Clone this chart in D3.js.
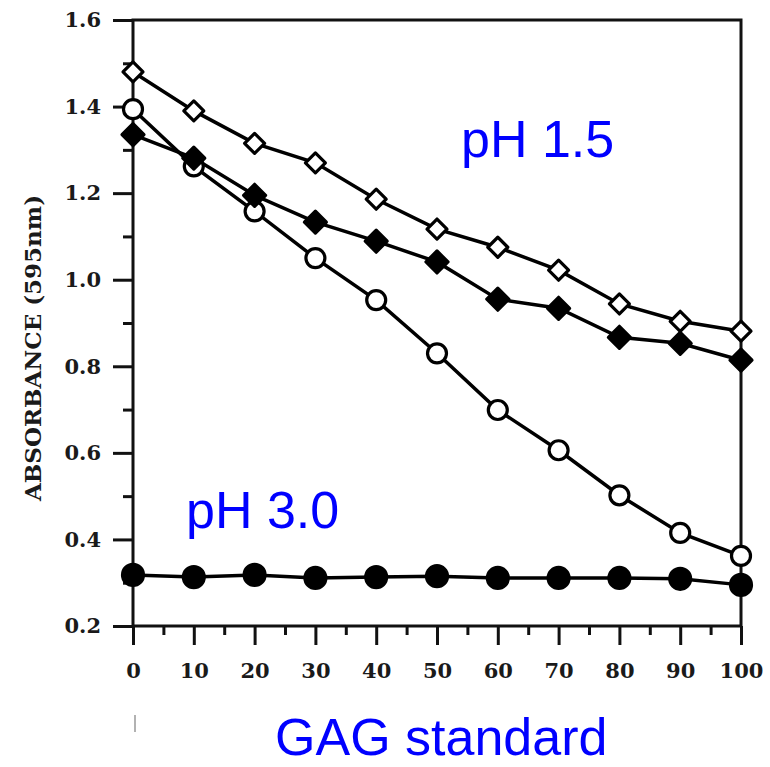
<!DOCTYPE html>
<html>
<head>
<meta charset="utf-8">
<script src="https://cdn.jsdelivr.net/npm/d3@7"></script>
<style>
  body { margin: 0; background: #fff; }
  svg { display: block; }
</style>
</head>
<body>
<svg id="chart" width="770" height="767"></svg>
<script>
// GAG standard concentrations (x) and absorbance readings at 595nm
var gag = [0, 10, 20, 30, 40, 50, 60, 70, 80, 90, 100];
var openDiamond  = [1.48, 1.39, 1.315, 1.27, 1.186, 1.117, 1.075, 1.022, 0.944, 0.904, 0.881];
var filledDiamond = [1.335, 1.281, 1.195, 1.133, 1.089, 1.041, 0.955, 0.934, 0.867, 0.853, 0.814];
var openCircle   = [1.394, 1.262, 1.158, 1.05, 0.953, 0.83, 0.699, 0.606, 0.502, 0.415, 0.362];
var filledCircle = [0.318, 0.313, 0.318, 0.311, 0.313, 0.315, 0.311, 0.311, 0.311, 0.309, 0.295];
var yTicks = [0.2, 0.4, 0.6, 0.8, 1.0, 1.2, 1.4, 1.6];
var xTicks = [0, 10, 20, 30, 40, 50, 60, 70, 80, 90, 100];

var svg = d3.select("#chart");
var x = d3.scaleLinear().domain([0, 100]).range([133, 741]);
var y = d3.scaleLinear().domain([0.2, 1.6]).range([626, 20]);

var tickFont = "'DejaVu Serif', serif";
var ink = "#111";

// minor ticks first (no labels)
svg.append("g")
   .attr("transform", "translate(" + x(0) + ",0)")
   .call(d3.axisLeft(y).tickValues(d3.range(0.3, 1.6, 0.2)).tickSize(10).tickFormat(""))
   .call(function(g) { g.select(".domain").remove(); })
   .selectAll("line").attr("stroke", ink).attr("stroke-width", 3);

svg.append("g")
   .attr("transform", "translate(0," + y(0.2) + ")")
   .call(d3.axisBottom(x).tickValues(d3.range(5, 100, 10)).tickSize(9).tickFormat(""))
   .call(function(g) { g.select(".domain").remove(); })
   .selectAll("line").attr("stroke", ink).attr("stroke-width", 3);

// major ticks with labels
var yAxis = svg.append("g")
   .attr("transform", "translate(" + x(0) + ",0)")
   .call(d3.axisLeft(y).tickValues(yTicks).tickSize(20).tickPadding(12).tickFormat(d3.format(".1f")));
yAxis.select(".domain").remove();
yAxis.selectAll("line").attr("stroke", ink).attr("stroke-width", 3);
yAxis.selectAll("text")
   .attr("font-family", tickFont).attr("font-weight", "bold")
   .attr("font-size", 21).attr("fill", "#1a1a1a");

var xAxis = svg.append("g")
   .attr("transform", "translate(0," + y(0.2) + ")")
   .call(d3.axisBottom(x).tickValues(xTicks).tickSize(19).tickPadding(18).tickFormat(d3.format("d")));
xAxis.select(".domain").remove();
xAxis.selectAll("line").attr("stroke", ink).attr("stroke-width", 3);
xAxis.selectAll("text")
   .attr("font-family", tickFont).attr("font-weight", "bold")
   .attr("font-size", 21).attr("fill", "#1a1a1a");

// frame
svg.append("rect")
   .attr("x", x(0)).attr("y", y(1.6))
   .attr("width", x(100) - x(0)).attr("height", y(0.2) - y(1.6))
   .attr("fill", "none").attr("stroke", ink).attr("stroke-width", 3);

// y axis title
svg.append("text")
   .attr("transform", "translate(41,348) rotate(-90)")
   .attr("text-anchor", "middle")
   .attr("font-family", tickFont).attr("font-weight", "bold")
   .attr("font-size", 23).attr("fill", "#1a1a1a")
   .text("ABSORBANCE (595nm)");

var line = d3.line()
   .x(function(d, i) { return x(gag[i]); })
   .y(function(d) { return y(d); });

var series = [
  {values: filledCircle, shape: "circle", fill: "#000", r: 10.5},
  {values: openCircle, shape: "circle", fill: "#fff", r: 9.5},
  {values: filledDiamond, shape: "diamond", fill: "#000", r: 11},
  {values: openDiamond, shape: "diamond", fill: "#fff", r: 10}
];

series.forEach(function(s) {
  svg.append("path")
     .datum(s.values)
     .attr("d", line)
     .attr("fill", "none").attr("stroke", "#000").attr("stroke-width", 3.5);
});

series.forEach(function(s) {
  var g = svg.append("g");
  if (s.shape === "circle") {
    g.selectAll("circle").data(s.values).enter().append("circle")
     .attr("cx", function(d, i) { return x(gag[i]); })
     .attr("cy", function(d) { return y(d); })
     .attr("r", s.r)
     .attr("fill", s.fill).attr("stroke", "#000").attr("stroke-width", 3.2);
  } else {
    g.selectAll("path").data(s.values).enter().append("path")
     .attr("d", function(d, i) {
       var cx = x(gag[i]), cy = y(d), r = s.r;
       return "M" + cx + "," + (cy - r) + "L" + (cx + r) + "," + cy +
              "L" + cx + "," + (cy + r) + "L" + (cx - r) + "," + cy + "Z";
     })
     .attr("fill", s.fill).attr("stroke", "#000").attr("stroke-width", 3.2)
     .attr("stroke-linejoin", "round");
  }
});

// blue annotations
var blueFont = "'Liberation Sans', Arial, sans-serif";
svg.append("text").attr("x", 461).attr("y", 157)
   .attr("font-family", blueFont).attr("font-size", 52).attr("fill", "#0000ff")
   .text("pH 1.5");
svg.append("text").attr("x", 186).attr("y", 528)
   .attr("font-family", blueFont).attr("font-size", 52).attr("fill", "#0000ff")
   .text("pH 3.0");
svg.append("text").attr("x", 275).attr("y", 755)
   .attr("font-family", blueFont).attr("font-size", 52).attr("fill", "#0000ff")
   .text("GAG standard");

// faint scan mark below the axis
svg.append("line")
   .attr("x1", 135).attr("x2", 135).attr("y1", 715).attr("y2", 732)
   .attr("stroke", "#999").attr("stroke-width", 1.5);
</script>
</body>
</html>
